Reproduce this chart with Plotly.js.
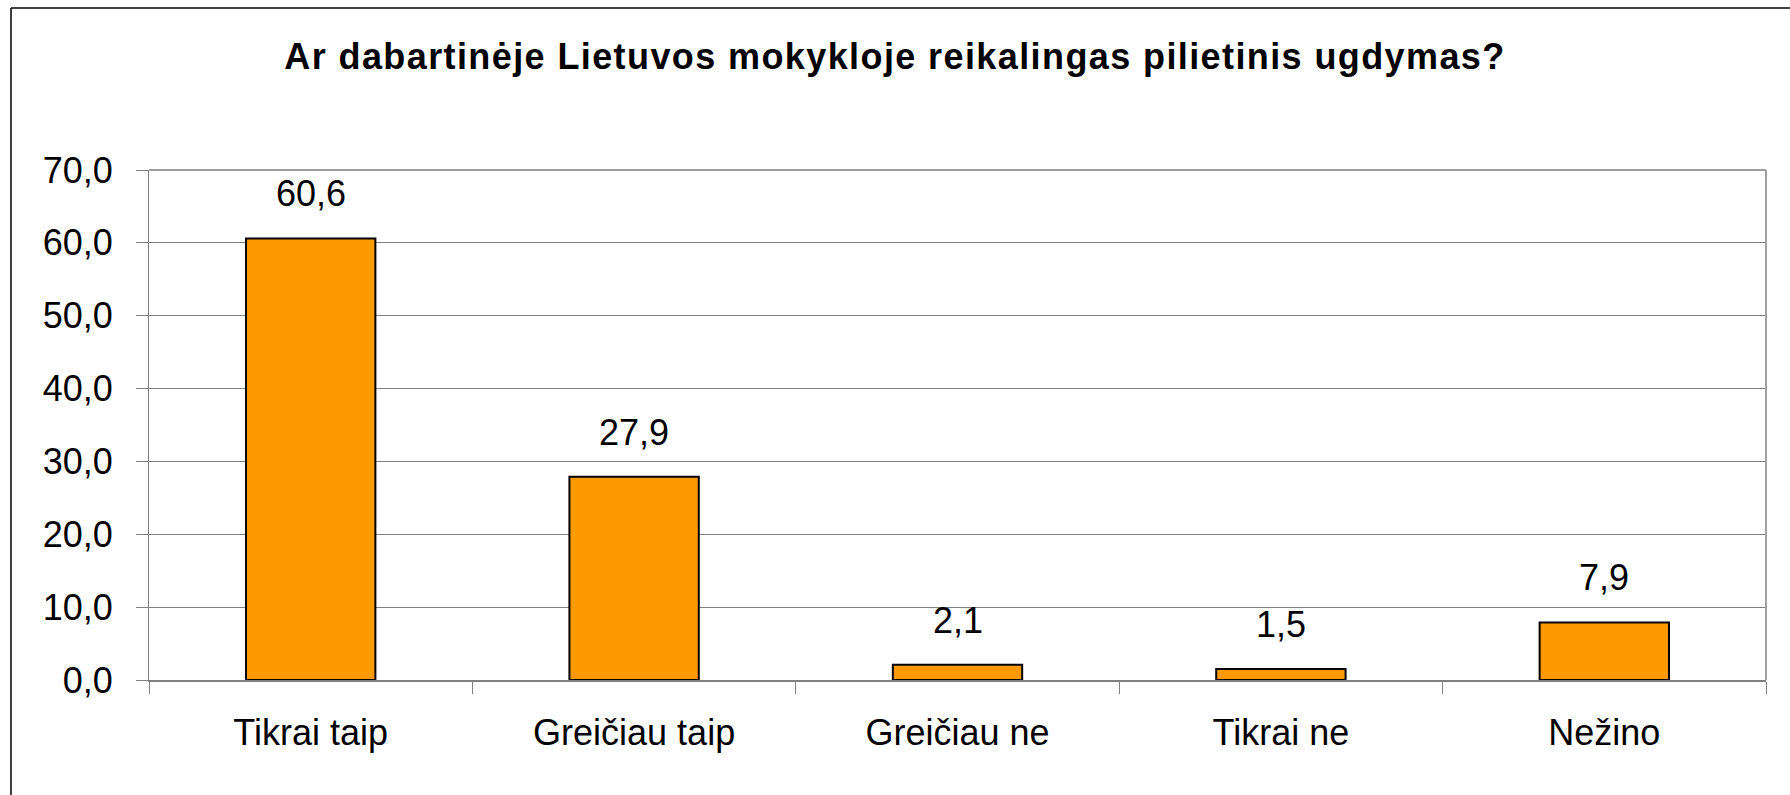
<!DOCTYPE html>
<html>
<head>
<meta charset="utf-8">
<script src="https://cdn.plot.ly/plotly-3.0.1.min.js"></script>
<style>
  html, body { margin: 0; padding: 0; background: #fff; }
  #chart { width: 1790px; height: 795px; }
  .gtitle { letter-spacing: 1.4px; }
</style>
</head>
<body>
<div id="chart"></div>
<script>
const categories = ["Tikrai taip", "Greičiau taip", "Greičiau ne", "Tikrai ne", "Nežino"];
const values = [60.6, 27.9, 2.1, 1.5, 7.9];
const tickValues = [0, 10, 20, 30, 40, 50, 60, 70];
const titleText = "Ar dabartinėje Lietuvos mokykloje reikalingas pilietinis ugdymas?";

const W = 1790, H = 795;
const M = { l: 149, r: 24, t: 170, b: 115 };
const pw = W - M.l - M.r, ph = H - M.t - M.b;
const fx = px => (px - M.l) / pw;
const fy = py => (H - M.b - py) / ph;

const fmt = v => v.toFixed(1).replace('.', ',');

const trace = {
  type: 'bar',
  x: categories,
  y: values,
  marker: { color: '#FF9900', line: { color: '#000000', width: 2 } },
  hoverinfo: 'none'
};

const annotations = categories.map((c, i) => ({
  x: c, y: values[i], xref: 'x', yref: 'y',
  text: fmt(values[i]), showarrow: false,
  yanchor: 'bottom', yshift: 22,
  font: { family: 'Liberation Sans, Arial, sans-serif', size: 36, color: '#000' }
}));

const layout = {
  width: W, height: H,
  margin: M,
  paper_bgcolor: '#ffffff',
  plot_bgcolor: '#ffffff',
  separators: ', ',
  showlegend: false,
  bargap: 0.6,
  title: {
    text: titleText,
    x: 0.5, xanchor: 'center', xref: 'container',
    y: 1 - 56 / H, yanchor: 'middle', yref: 'container',
    font: { family: 'Liberation Sans, Arial, sans-serif', size: 36, color: '#000', weight: 'bold' }
  },
  font: { family: 'Liberation Sans, Arial, sans-serif', size: 36, color: '#000' },
  xaxis: {
    type: 'category',
    showline: true, linecolor: '#808080', linewidth: 2,
    ticks: 'outside', tickson: 'boundaries', ticklen: 12, tickcolor: '#808080', tickwidth: 1,
    showgrid: false, zeroline: false,
    tickfont: { size: 36 },
    ticklabelstandoff: 20,
    fixedrange: true
  },
  yaxis: {
    range: [0, 70],
    tickvals: tickValues,
    tickformat: '.1f',
    showline: true, linecolor: '#808080', linewidth: 1,
    ticks: 'outside', ticklen: 12, tickcolor: '#808080', tickwidth: 1,
    showgrid: true, gridcolor: '#808080', gridwidth: 1,
    zeroline: false,
    tickfont: { size: 36 },
    ticklabelstandoff: 16,
    fixedrange: true
  },
  annotations: annotations,
  shapes: [
    { type: 'line', xref: 'paper', yref: 'paper', x0: 0, x1: 1, y0: 1, y1: 1,
      line: { color: '#A0A0A0', width: 2 } },
    { type: 'line', xref: 'paper', yref: 'paper', x0: 1, x1: 1, y0: 0, y1: 1,
      line: { color: '#A0A0A0', width: 2 } },
    { type: 'line', xref: 'paper', yref: 'paper', x0: fx(11), x1: fx(W + 5), y0: fy(8), y1: fy(8),
      line: { color: '#000000', width: 1.5 }, layer: 'above' },
    { type: 'line', xref: 'paper', yref: 'paper', x0: fx(11), x1: fx(11), y0: fy(8), y1: fy(H + 5),
      line: { color: '#000000', width: 1.5 }, layer: 'above' }
  ]
};

Plotly.newPlot('chart', [trace], layout, { displayModeBar: false, staticPlot: true });
</script>
</body>
</html>
